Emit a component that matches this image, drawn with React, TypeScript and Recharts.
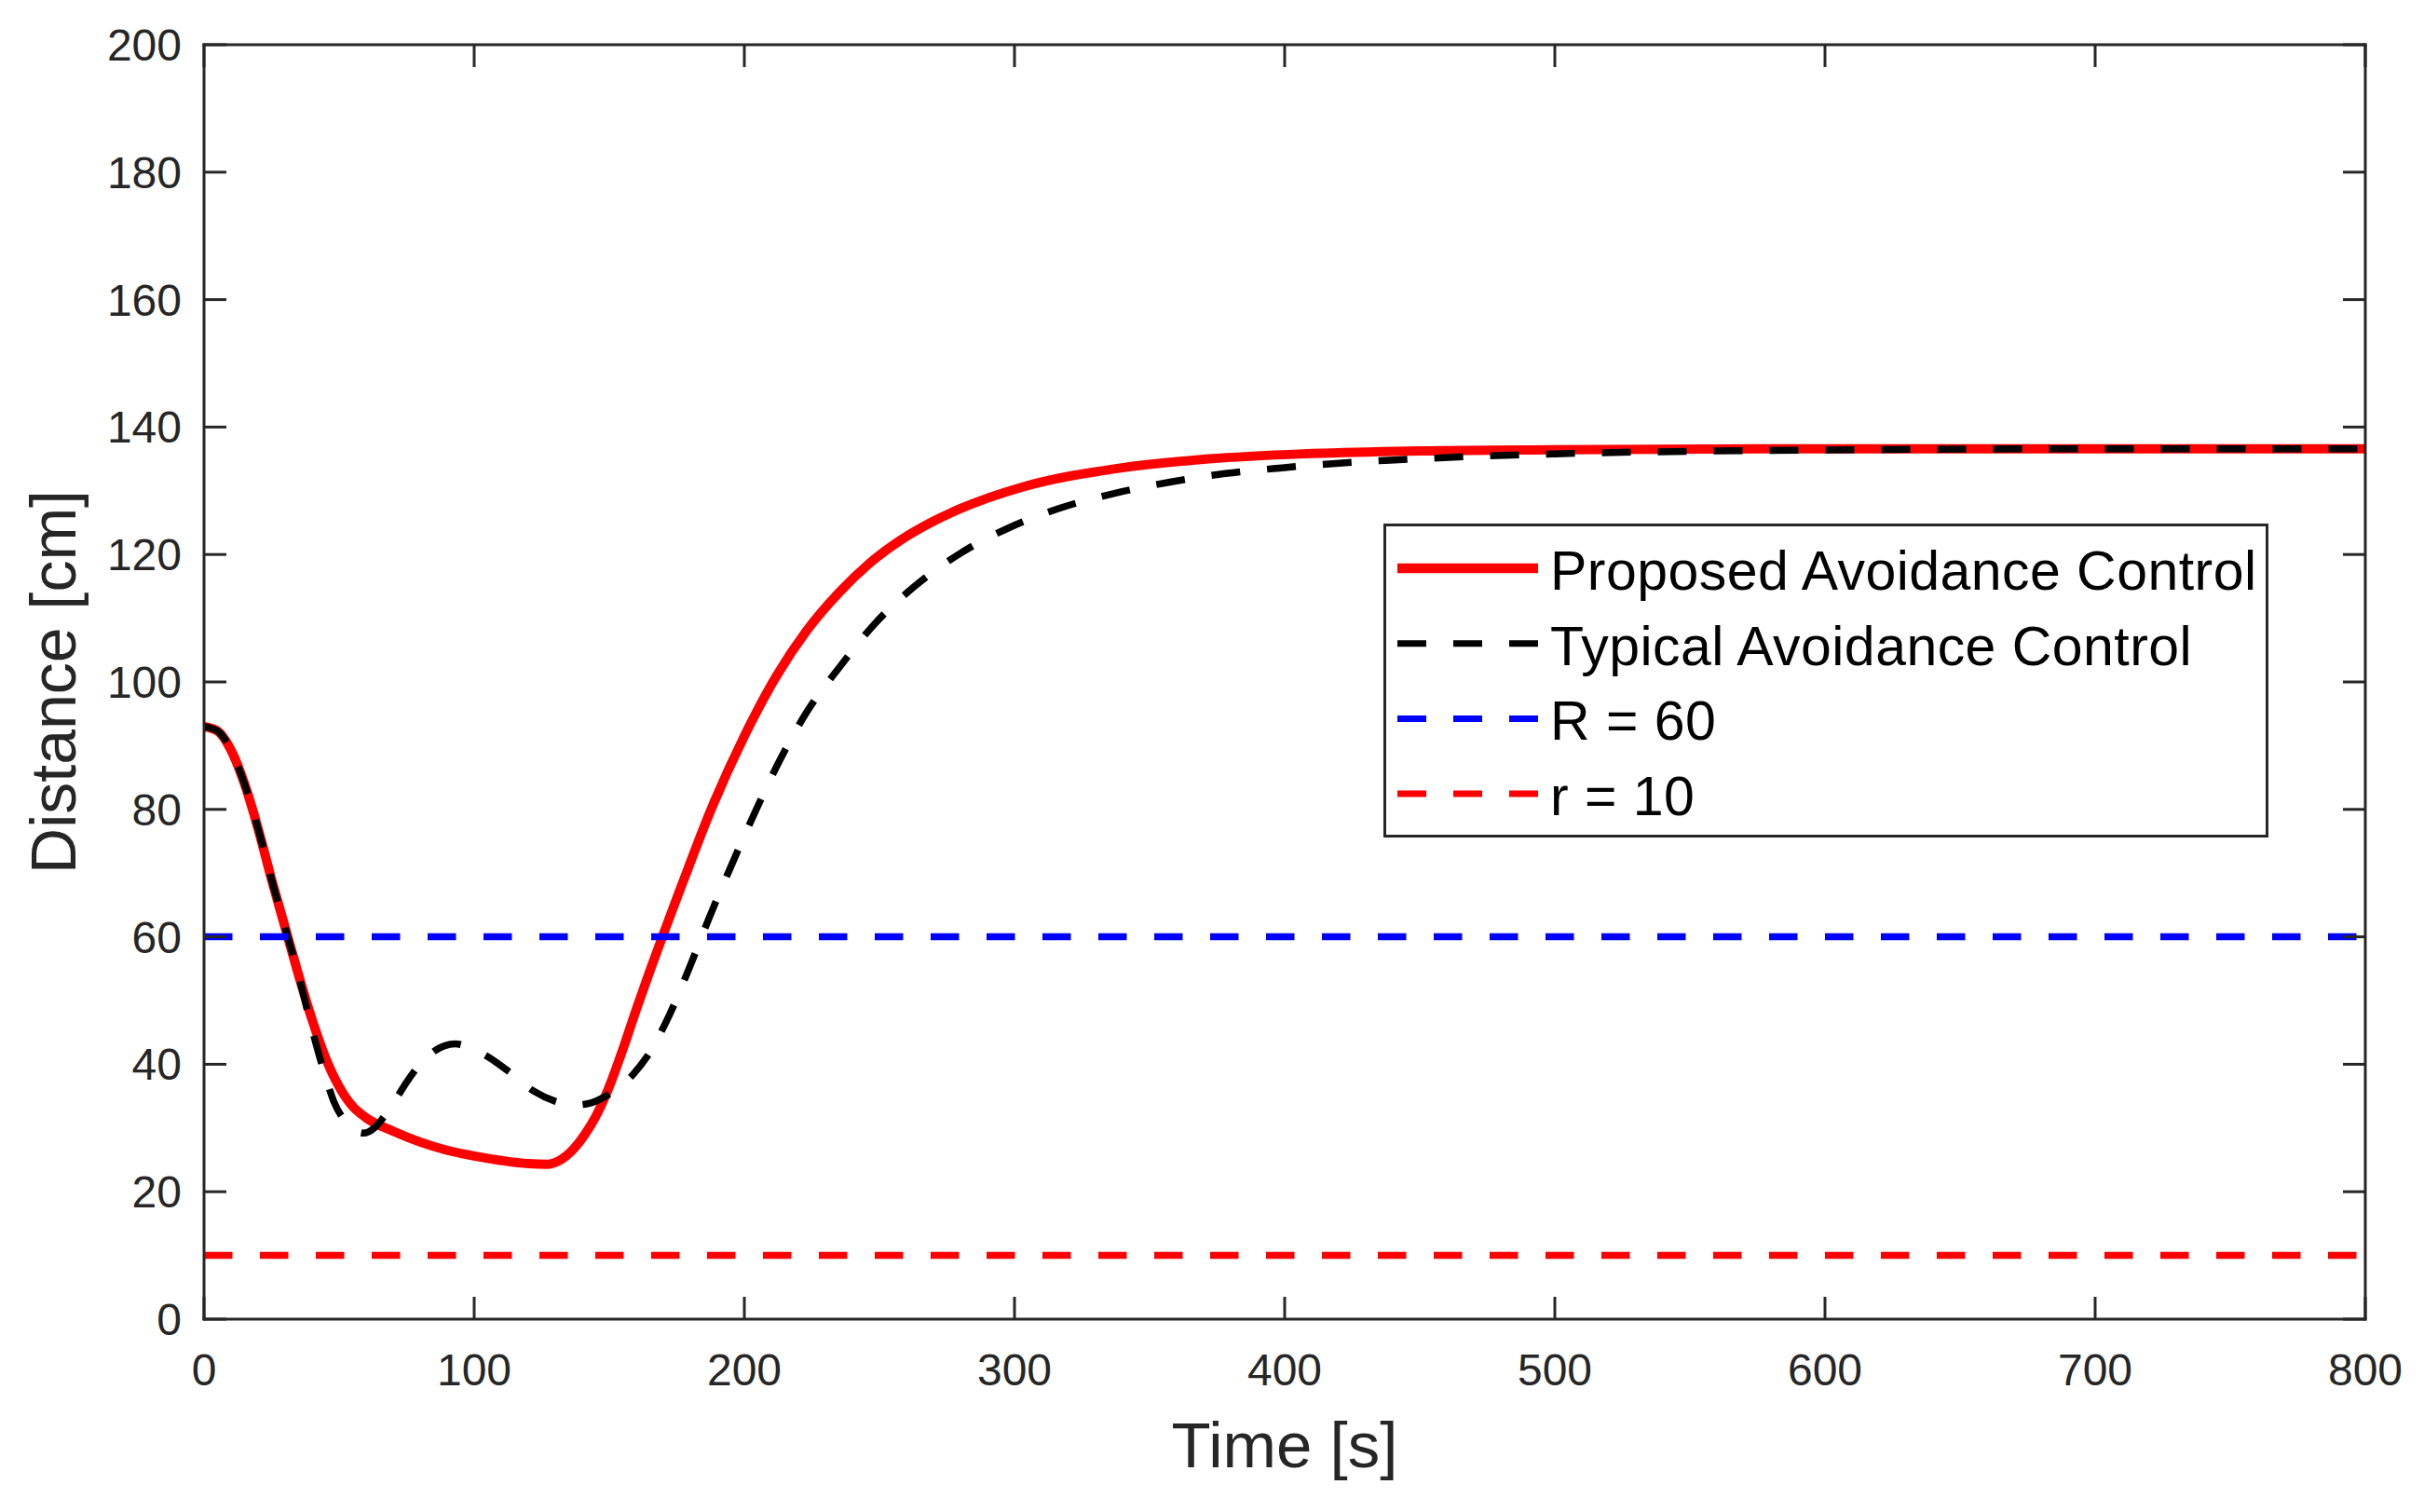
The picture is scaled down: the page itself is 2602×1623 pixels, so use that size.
import { LineChart, Line, XAxis, YAxis, Legend } from 'recharts'

// sampled off the figure: time [s] and distance [cm]
const proposedTime = [0, 5, 10, 15, 20, 25, 30, 35, 40, 45, 50, 55, 60, 70, 80, 90, 100, 110, 120, 127, 132, 137, 141, 145, 150, 155, 160, 165, 170, 177, 188, 200, 212, 223, 235, 246, 258, 269, 280, 303, 338, 372, 407, 441, 500, 600, 800]
const proposedDist = [93, 92.3, 89.3, 84, 77, 69, 61.5, 54, 47, 41, 36.5, 33.4, 31.6, 29.5, 27.8, 26.5, 25.6, 24.9, 24.4, 24.3, 25, 26.8, 29, 31.8, 36.5, 42.3, 48.6, 54.6, 60.4, 68.3, 80.3, 91.5, 101, 108, 114, 118.5, 122.3, 125, 127.2, 130.6, 133.5, 135, 135.8, 136.2, 136.45, 136.6, 136.6]

const typicalTime = [0, 5, 10, 15, 20, 25, 30, 35, 40, 45, 48, 52, 56, 59, 63, 67, 71, 75, 80, 85, 93, 100, 105, 113, 122, 130, 137, 142, 150, 155, 159, 164, 172, 180, 187, 195.5, 204, 213, 223, 235, 248, 263, 280, 298, 317, 337, 358, 378, 399, 419, 439, 500, 550, 600, 700, 800]
const typicalDist = [93, 92.3, 89.3, 84, 77, 69, 61.5, 54, 45.5, 38, 34.2, 31.2, 29.6, 29.2, 30, 32, 34.5, 37.2, 40, 42, 43.2, 42.3, 41.2, 38.8, 35.8, 34.2, 33.6, 33.8, 35.3, 36.8, 38.5, 41.2, 47.5, 55.5, 63, 71.5, 79.6, 87.6, 95.2, 102.2, 109, 115, 120.2, 124.2, 127.3, 129.6, 131.4, 132.7, 133.6, 134.3, 134.8, 135.8, 136.2, 136.4, 136.6, 136.6]

const timeSpan = [0, 800]
const distSpan = [0, 200]
const bigR = 60
const smallR = 10

const xTicks = [0, 100, 200, 300, 400, 500, 600, 700, 800]
const yTicks = [0, 20, 40, 60, 80, 100, 120, 140, 160, 180, 200]

const toPoints = (ts: number[], ds: number[]) => ts.map((t, i) => ({ t, d: ds[i] }))
const flat = (v: number) => timeSpan.map((t) => ({ t, d: v }))

// the two threshold lines sit on the top/right axes so the box axes have series too (same scales)
const series = [
  { name: 'Proposed Avoidance Control', data: toPoints(proposedTime, proposedDist), color: '#ff0000', width: 10, dash: undefined as string | undefined, curve: 'monotone' as const, xId: 'bottom', yId: 'left' },
  { name: 'Typical Avoidance Control', data: toPoints(typicalTime, typicalDist), color: '#000000', width: 7.5, dash: '31 29', curve: 'monotone' as const, xId: 'bottom', yId: 'left' },
  { name: `R = ${bigR}`, data: flat(bigR), color: '#0000ff', width: 7.5, dash: '30.5 29.5', curve: 'linear' as const, xId: 'top', yId: 'right' },
  { name: `r = ${smallR}`, data: flat(smallR), color: '#ff0000', width: 7.5, dash: '30.5 29.5', curve: 'linear' as const, xId: 'top', yId: 'right' },
]

const W = 2602
const H = 1623
const axisColor = '#262626'
const font = '"Liberation Sans", Arial, Helvetica, sans-serif'
const TICK = 24

function BottomTick({ x, y, payload }: any) {
  return (
    <g>
      <line x1={x} x2={x} y1={y} y2={y - TICK} stroke={axisColor} strokeWidth={3} />
      <text x={x} y={y + 71} textAnchor="middle" fill={axisColor} fontSize={48} fontFamily={font}>
        {payload.value}
      </text>
    </g>
  )
}

function TopTick({ x, y }: any) {
  return <line x1={x} x2={x} y1={y} y2={y + TICK} stroke={axisColor} strokeWidth={3} />
}

function LeftTick({ x, y, payload }: any) {
  return (
    <g>
      <line x1={x} x2={x + TICK} y1={y} y2={y} stroke={axisColor} strokeWidth={3} />
      <text x={x - 24} y={y + 17} textAnchor="end" fill={axisColor} fontSize={48} fontFamily={font}>
        {payload.value}
      </text>
    </g>
  )
}

function RightTick({ x, y }: any) {
  return <line x1={x} x2={x - TICK} y1={y} y2={y} stroke={axisColor} strokeWidth={3} />
}

function TimeTitle({ viewBox }: any) {
  const cx = viewBox ? viewBox.x + viewBox.width / 2 : 1379
  const top = viewBox ? viewBox.y : 1416
  return (
    <text x={cx} y={top + 159} textAnchor="middle" fill={axisColor} fontSize={69} fontFamily={font}>
      Time [s]
    </text>
  )
}

function DistanceTitle({ viewBox }: any) {
  const cy = viewBox ? viewBox.y + viewBox.height / 2 : 732
  const bx = 81
  return (
    <text x={bx} y={cy} transform={`rotate(-90, ${bx}, ${cy})`} textAnchor="middle" fill={axisColor} fontSize={68} fontFamily={font}>
      Distance [cm]
    </text>
  )
}

function LegendBox() {
  const rowGap = 80.7
  return (
    <svg width={950} height={337} style={{ display: 'block' }}>
      <rect x={1.5} y={1.5} width={947} height={334} fill="#ffffff" stroke={axisColor} strokeWidth={3} />
      {series.map((s, i) => {
        const cy = 48 + i * rowGap
        return (
          <g key={s.name}>
            <line
              x1={15}
              x2={166}
              y1={cy}
              y2={cy}
              stroke={s.color}
              strokeWidth={s.dash ? 7 : 10.5}
              strokeDasharray={s.dash ? '31 29' : undefined}
            />
            <text x={179} y={cy + 23} fill="#000000" fontSize={59} letterSpacing={0.45} fontFamily={font}>
              {s.name}
            </text>
          </g>
        )
      })}
    </svg>
  )
}

const axisLine = { stroke: axisColor, strokeWidth: 3, strokeLinecap: 'square' as const }

export default function App() {
  return (
    <div style={{ position: 'absolute', left: 0, top: 0, width: W, height: H, background: '#ffffff' }}>
      {/* top and right axes get 1px of room: a zero-sized axis is not drawn at all */}
      <LineChart width={W} height={H} margin={{ top: 47, right: 62, bottom: 0, left: 0 }}>
        <XAxis
          xAxisId="bottom"
          dataKey="t"
          type="number"
          domain={timeSpan}
          ticks={xTicks}
          interval={0}
          allowDataOverflow
          height={207}
          tickSize={0}
          tickMargin={0}
          tickLine={false}
          tick={<BottomTick />}
          axisLine={axisLine}
          label={<TimeTitle />}
        />
        <XAxis
          xAxisId="top"
          orientation="top"
          dataKey="t"
          type="number"
          domain={timeSpan}
          ticks={xTicks}
          interval={0}
          allowDataOverflow
          height={1}
          tickSize={0}
          tickMargin={0}
          tickLine={false}
          tick={<TopTick />}
          axisLine={axisLine}
        />
        <YAxis
          yAxisId="left"
          type="number"
          domain={distSpan}
          ticks={yTicks}
          interval={0}
          allowDataOverflow
          width={219}
          tickSize={0}
          tickMargin={0}
          tickLine={false}
          tick={<LeftTick />}
          axisLine={axisLine}
          label={<DistanceTitle />}
        />
        <YAxis
          yAxisId="right"
          orientation="right"
          type="number"
          domain={distSpan}
          ticks={yTicks}
          interval={0}
          allowDataOverflow
          width={1}
          tickSize={0}
          tickMargin={0}
          tickLine={false}
          tick={<RightTick />}
          axisLine={axisLine}
        />
        {series.map((s) => (
          <Line
            key={s.name}
            xAxisId={s.xId}
            yAxisId={s.yId}
            data={s.data}
            dataKey="d"
            name={s.name}
            type={s.curve}
            stroke={s.color}
            strokeWidth={s.width}
            strokeDasharray={s.dash}
            dot={false}
            activeDot={false}
            isAnimationActive={false}
          />
        ))}
        <Legend
          layout="vertical"
          align="center"
          verticalAlign="middle"
          content={<LegendBox />}
          wrapperStyle={{ left: 1485, top: 562, width: 950, height: 337, margin: 0 }}
        />
      </LineChart>
    </div>
  )
}
